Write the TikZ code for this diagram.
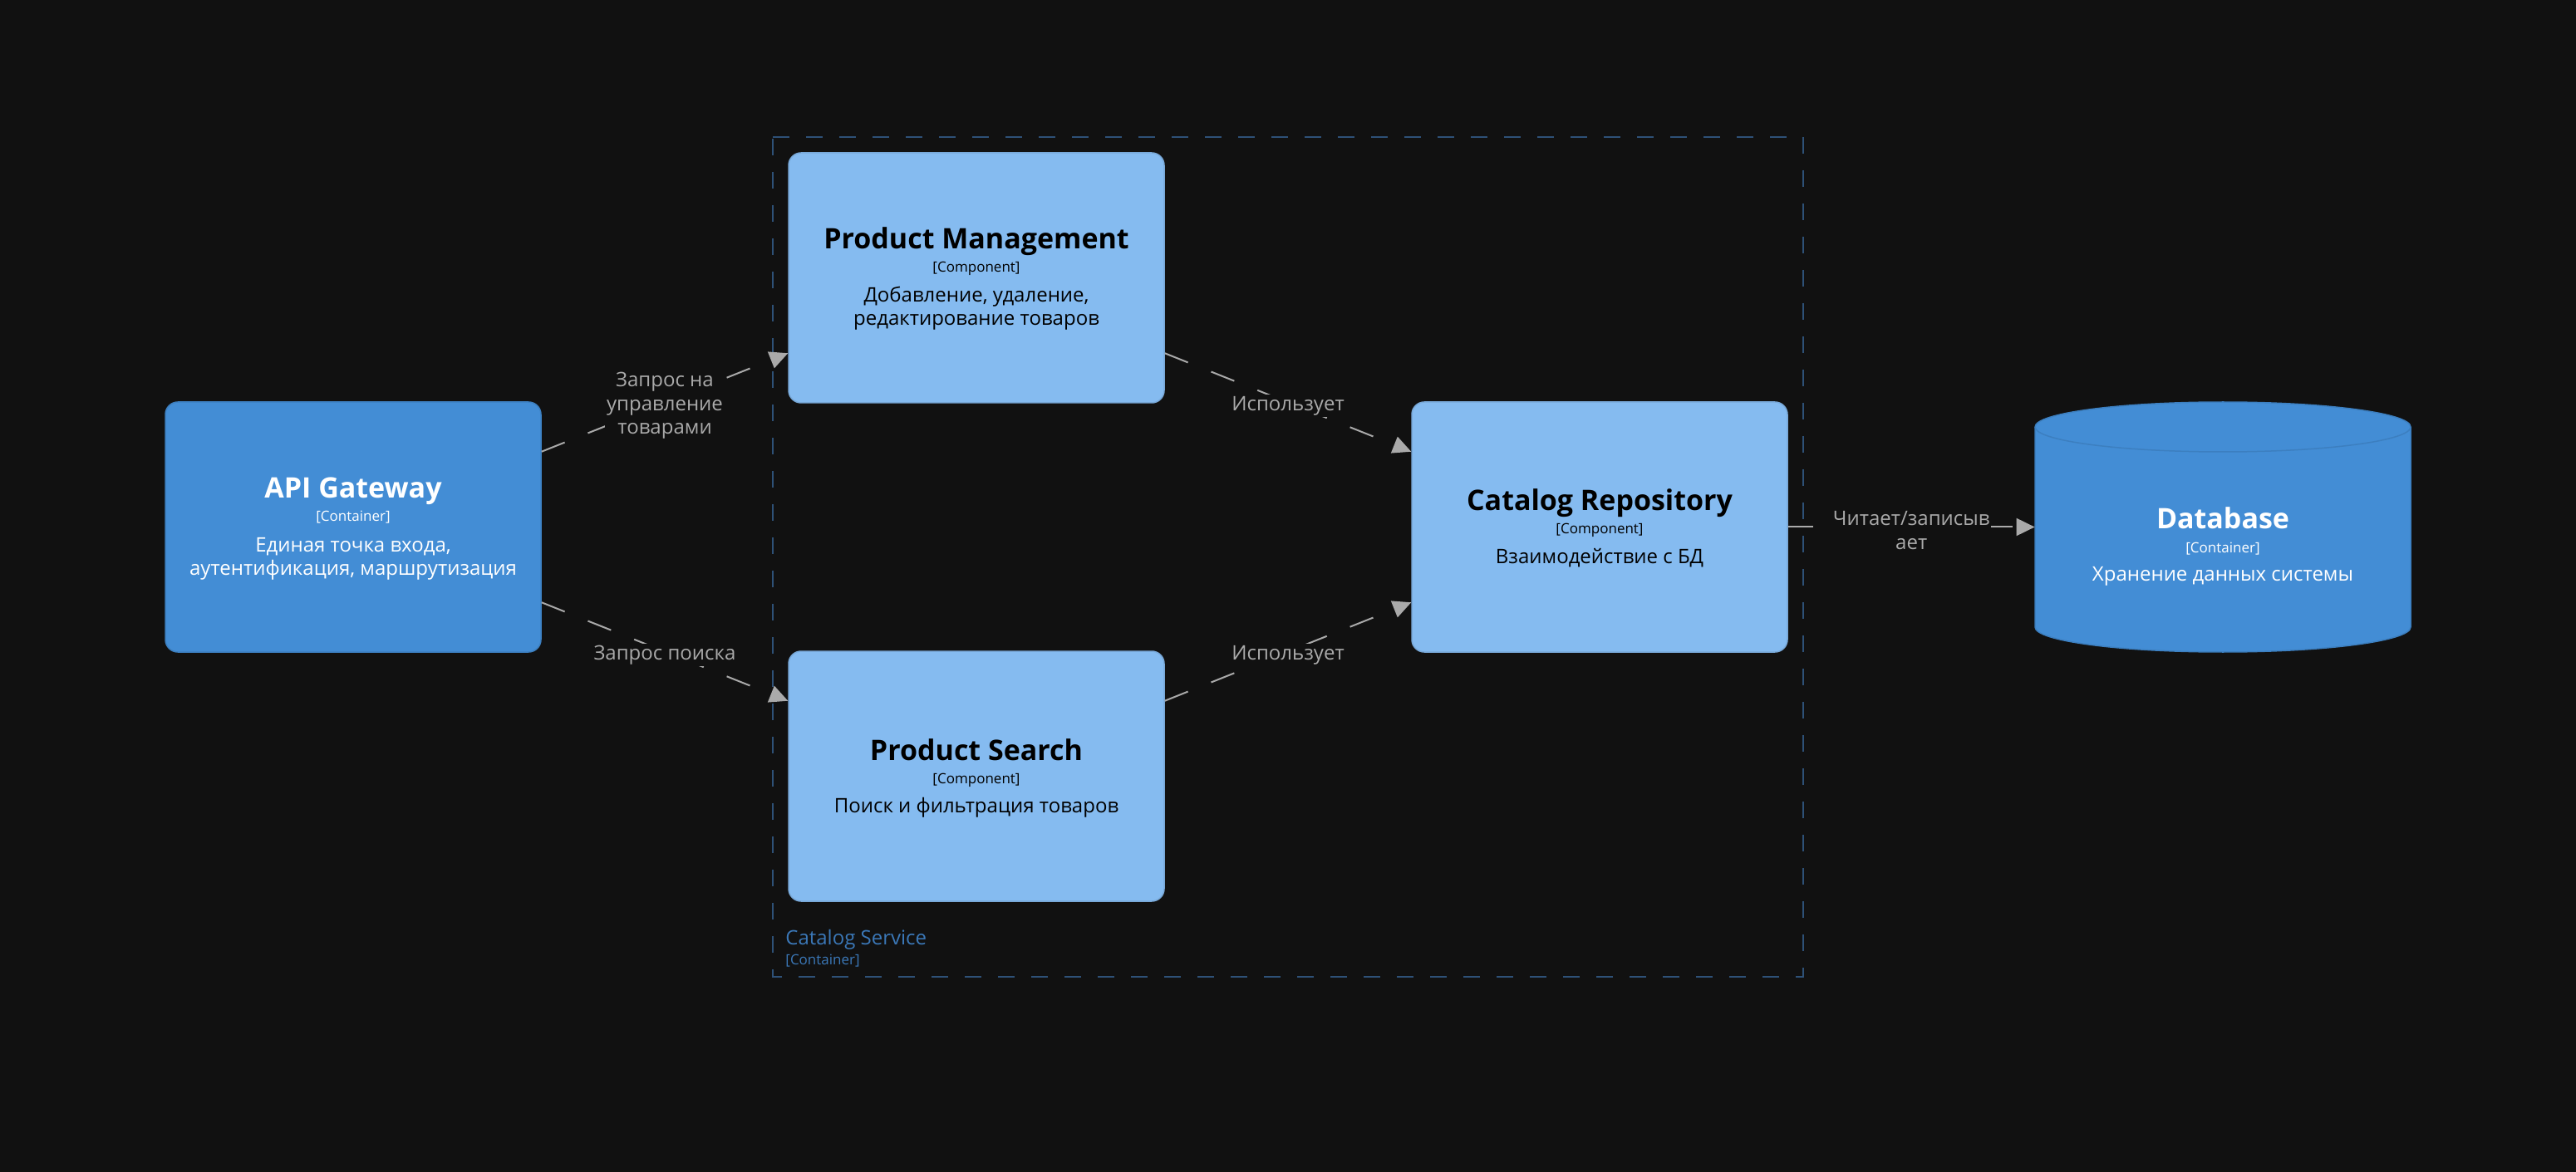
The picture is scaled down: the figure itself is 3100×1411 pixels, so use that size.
\documentclass[tikz,border=0pt]{standalone}
\usepackage{fontspec}
\setmainfont{Open Sans}
\usetikzlibrary{arrows.meta,calc}
\definecolor{bgc}{HTML}{111111}
\definecolor{contfill}{HTML}{438DD5}
\definecolor{contdraw}{HTML}{3C7FC0}
\definecolor{compfill}{HTML}{85BBF0}
\definecolor{compdraw}{HTML}{78A8D8}
\definecolor{relc}{HTML}{AAAAAA}
\definecolor{bndline}{HTML}{2E5177}
\definecolor{bndtext}{HTML}{3B78B8}
\begin{document}
\begin{tikzpicture}[x=0.5pt,y=-0.5pt,
  boxbase/.style={rectangle, rounded corners=7.5pt, minimum width=226pt, minimum height=150.5pt, line width=0.75pt, inner sep=0pt},
  containerbox/.style={boxbase, fill=contfill, draw=contdraw},
  componentbox/.style={boxbase, fill=compfill, draw=compdraw},
  ttl/.style={anchor=base, inner sep=0pt, font=\fontsize{17}{20}\selectfont\bfseries},
  knd/.style={anchor=base, inner sep=0pt, font=\fontsize{8.5}{10}\selectfont},
  dsc/.style={anchor=base, inner sep=0pt, font=\fontsize{12}{14}\selectfont},
  wtxt/.style={text=white},
  btxt/.style={text=black},
  rel/.style={draw=relc, line width=1pt, dash pattern=on 15pt off 15pt, -{Triangle[length=11pt,width=10.5pt]}},
  lbl/.style={fill=bgc, text=relc, inner sep=1pt, align=center, yshift=-2pt, font=\fontsize{12}{14.3}\selectfont},
  bnd/.style={draw=bndline, line width=0.9pt, dash pattern=on 10pt off 10pt},
]
\useasboundingbox (0,0) rectangle (3100,1411);
\fill[bgc] (0,0) rectangle (3100,1411);

% boundary
\draw[bnd] (930,165) -- (2170,165) -- (2170,1176) -- (930,1176) -- cycle;
\node[anchor=base west, inner sep=0pt, text=bndtext, font=\fontsize{12}{14}\selectfont] (bndt) at (945,1137) {Catalog Service};
\node[anchor=base west, inner sep=0pt, text=bndtext, font=\fontsize{8.5}{10}\selectfont] (bndk) at (945,1161) {[Container]};

% boxes
\node[containerbox] (api) at (425,634.5) {};
\node[componentbox] (pm) at (1175,334.5) {};
\node[componentbox] (ps) at (1175,934.5) {};
\node[componentbox] (cr) at (1925,634.5) {};
\node[inner sep=0pt, minimum width=226pt, minimum height=150.5pt] (db) at (2675,634.5) {};
\path[fill=contfill, draw=contdraw, line width=0.75pt]
  (2449,514) -- (2449,755) arc[start angle=180, end angle=0, x radius=226, y radius=30]
  -- (2901,514) arc[start angle=0, end angle=-180, x radius=226, y radius=30] -- cycle;
\draw[contdraw, line width=0.75pt] (2449,514) arc[start angle=180, end angle=0, x radius=226, y radius=30];

% texts
\node[ttl, wtxt] (api-t) at (425,600) {API Gateway};
\node[knd, wtxt] (api-k) at (425,628) {[Container]};
\node[dsc, wtxt] (api-d1) at (425,664) {Единая точка входа,};
\node[dsc, wtxt] (api-d2) at (425,692) {аутентификация, маршрутизация};

\node[ttl, btxt] (pm-t) at (1175,300) {Product Management};
\node[knd, btxt] (pm-k) at (1175,328) {[Component]};
\node[dsc, btxt] (pm-d1) at (1175,364) {Добавление, удаление,};
\node[dsc, btxt] (pm-d2) at (1175,392) {редактирование товаров};

\node[ttl, btxt] (ps-t) at (1175,915) {Product Search};
\node[knd, btxt] (ps-k) at (1175,943) {[Component]};
\node[dsc, btxt] (ps-d1) at (1175,978) {Поиск и фильтрация товаров};

\node[ttl, btxt] (cr-t) at (1925,615) {Catalog Repository};
\node[knd, btxt] (cr-k) at (1925,643) {[Component]};
\node[dsc, btxt] (cr-d1) at (1925,678) {Взаимодействие с БД};

\node[ttl, wtxt] (db-t) at (2675,637) {Database};
\node[knd, wtxt] (db-k) at (2675,665) {[Container]};
\node[dsc, wtxt] (db-d1) at (2675,699) {Хранение данных системы};

% relations
\draw[rel] ($(api.north east)!0.2!(api.south east)$) -- node[lbl] {Запрос на\\управление\\товарами} ($(pm.north west)!0.8!(pm.south west)$);
\draw[rel] ($(api.north east)!0.8!(api.south east)$) -- node[lbl] {Запрос поиска} ($(ps.north west)!0.2!(ps.south west)$);
\draw[rel] ($(pm.north east)!0.8!(pm.south east)$) -- node[lbl] {Использует} ($(cr.north west)!0.2!(cr.south west)$);
\draw[rel] ($(ps.north east)!0.2!(ps.south east)$) -- node[lbl] {Использует} ($(cr.north west)!0.8!(cr.south west)$);
\draw[rel] (cr.east) -- node[lbl] {Читает/записыв\\ает} (db.west);
\end{tikzpicture}
\end{document}
